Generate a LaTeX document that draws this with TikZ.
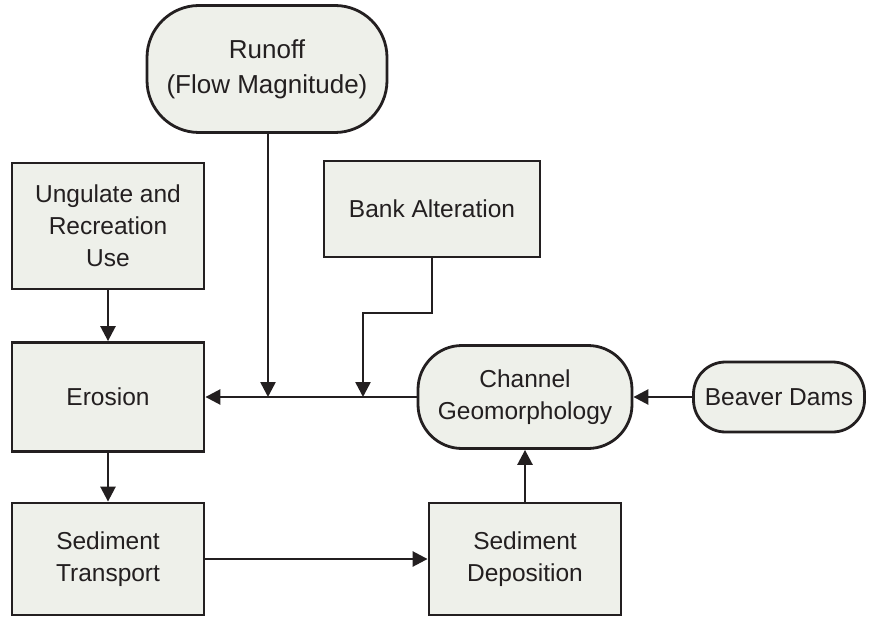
\documentclass[tikz,border=0pt]{standalone}
\usepackage{fontspec}
\setmainfont{Liberation Sans}
\usetikzlibrary{arrows.meta}
\definecolor{boxfill}{HTML}{EEF0EA}
\definecolor{ink}{HTML}{231F20}
\begin{document}
\begin{tikzpicture}[x=1pt,y=-1pt,
  base/.style={draw=ink,fill=boxfill,line width=2.8pt,inner sep=0pt,align=center,
    font=\fontsize{24.5}{32}\selectfont,text=ink},
  sqbox/.style={base,rectangle},
  pill/.style={base,rectangle,rounded corners=#1},
  conn/.style={draw=ink,line width=2.6pt,-{Triangle[length=15pt,width=15pt]}}]
\useasboundingbox (0,0) rectangle (877,617);
\node[pill=52,minimum width=240pt,minimum height=127pt,font=\fontsize{26}{35}\selectfont] (runoff) at (267,69) {Runoff\\(Flow Magnitude)};
\node[sqbox,minimum width=192pt,minimum height=126pt] (ungulate) at (108,226) {Ungulate and\\Recreation\\Use};
\node[sqbox,minimum width=216pt,minimum height=96pt] (bank) at (432,209) {Bank Alteration};
\node[sqbox,minimum width=192pt,minimum height=109pt] (erosion) at (108,397) {Erosion};
\node[pill=44,minimum width=214pt,minimum height=103pt] (channel) at (525,397) {Channel\\Geomorphology};
\node[pill=32,minimum width=171pt,minimum height=70pt] (beaver) at (779,397) {Beaver Dams};
\node[sqbox,minimum width=192pt,minimum height=112pt] (transport) at (108,559) {Sediment\\Transport};
\node[sqbox,minimum width=192pt,minimum height=112pt] (deposition) at (525,559) {Sediment\\Deposition};
\coordinate (jr) at (268,397);
\coordinate (jb) at (363,397);
\coordinate (bk) at (363,313);
\draw[conn] (channel.west) -- (erosion.east);
\draw[conn] (runoff.south -| jr) -- (jr);
\draw[conn] (bank.south) |- (bk) -- (jb);
\draw[conn] (ungulate.south) -- (erosion.north);
\draw[conn] (erosion.south) -- (transport.north);
\draw[conn] (transport.east) -- (deposition.west);
\draw[conn] (deposition.north) -- (channel.south);
\draw[conn] (beaver.west) -- (channel.east);
\end{tikzpicture}
\end{document}
